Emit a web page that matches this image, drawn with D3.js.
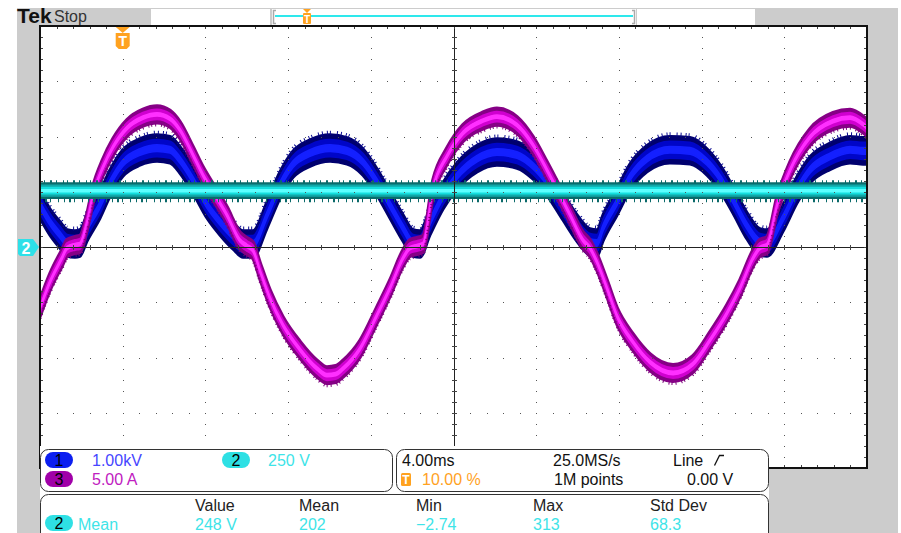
<!DOCTYPE html>
<html><head><meta charset="utf-8">
<script src="https://cdn.jsdelivr.net/npm/d3@7"></script>
<style>
html,body{margin:0;padding:0;background:#fff;}
svg{display:block;}
text{font-family:"Liberation Sans",Arial,sans-serif;}
</style></head><body>
<svg id="c" width="901" height="533"></svg>
<script>
// ---------------- DATA ----------------
// time axis in ms (trigger at 0), 4 ms/div, 10 divisions
const timePerDiv = 4;
const timeStart = -4;
// Channel 1 (blue) voltage, V  (1.00 kV/div)
const ch1Time = [-4.00,-3.52,-3.03,-2.69,-2.31,-2.07,-1.73,-1.10,-0.61,0.01,0.84,1.66,2.29,2.77,3.40,4.08,4.71,5.34,5.82,6.30,6.98,7.61,8.24,9.06,10.03,10.85,11.62,12.30,12.93,13.56,14.04,14.38,14.86,15.49,16.17,17.14,18.10,19.07,19.85,20.52,21.30,21.97,22.60,22.94,23.23,23.91,24.54,25.36,26.47,27.44,28.26,28.89,29.52,30.20,30.82,31.16,31.94,32.61,33.24,34.21,35.18,35.81,36.00];
const ch1Volts = [760,453,217,72,54,72,344,760,1158,1520,1720,1790,1760,1575,1213,760,453,199,54,54,579,1122,1500,1700,1790,1740,1539,1177,760,344,72,54,453,923,1285,1600,1720,1665,1466,1177,724,344,91,72,344,815,1267,1600,1760,1740,1539,1249,851,380,91,72,525,1032,1394,1640,1760,1740,1740];
// Channel 3 (magenta) current, A  (5.00 A/div)
const ch3Time = [-4.00,-3.52,-2.94,-2.69,-2.31,-2.07,-1.73,-1.44,-0.95,-0.47,0.21,0.98,1.66,2.29,2.77,3.40,3.88,4.37,5.04,5.67,6.01,6.30,6.65,7.12,7.75,8.58,9.40,9.88,10.30,10.66,11.48,12.30,12.93,13.56,13.90,14.23,14.52,15.01,15.69,16.46,17.43,18.10,19.07,19.85,20.52,21.15,21.64,22.26,22.60,22.94,23.42,23.91,24.68,25.50,26.62,27.58,28.41,29.23,29.86,30.49,30.82,31.16,31.65,32.28,33.24,34.36,35.18,35.81,36.00];
const ch3Amps = [-5.52,-3.17,-1.00,-0.09,0.18,0.27,2.26,4.71,7.24,9.05,10.77,11.70,12.00,11.60,10.59,8.33,6.52,4.98,2.90,0.60,0.10,-0.30,-2.20,-4.62,-7.06,-9.30,-11.00,-11.60,-11.50,-11.00,-9.20,-6.15,-3.71,-1.00,-0.09,0.09,0.27,5.34,8.24,10.32,11.45,11.80,11.04,9.23,6.97,4.71,2.90,0.63,-0.09,-1.36,-3.71,-6.24,-8.60,-10.41,-11.40,-10.59,-8.42,-5.97,-3.71,-1.00,-0.09,0.18,3.80,6.97,9.95,11.40,11.70,11.10,10.80];
// Channel 2 (cyan) voltage, V  (250 V/div)
const ch2Time = [-4.00,36.00];
const ch2Volts = [255,255];
// vertical scales (per division)
const ch1PerDiv = 1000, ch2PerDiv = 250, ch3PerDiv = 5;
// readout texts
const ch1Label = "1.00kV", ch2Label = "250 V", ch3Label = "5.00 A";
const horizLabels = ["4.00ms","25.0MS/s","Line"];
const horizLabels2 = ["10.00 %","1M points","0.00 V"];
const measLabels = ["Value","Mean","Min","Max","Std Dev"];
const measValues = ["248 V","202","\u22122.74","313","68.3"];
const measName = "Mean";

// ---------------- LAYOUT ----------------
const W = 901, H = 533;
const gx0 = 40, gx1 = 867, gy0 = 26, gy1 = 468;
const nX = 10, nY = 8;
const x = d3.scaleLinear().domain([timeStart, timeStart + nX*timePerDiv]).range([gx0, gx1]);
const y1 = d3.scaleLinear().domain([-nY/2*ch1PerDiv, nY/2*ch1PerDiv]).range([gy1, gy0]);
const y2 = d3.scaleLinear().domain([-nY/2*ch2PerDiv, nY/2*ch2PerDiv]).range([gy1, gy0]);
const y3 = d3.scaleLinear().domain([-nY/2*ch3PerDiv, nY/2*ch3PerDiv]).range([gy1, gy0]);
const xDiv = d3.scaleLinear().domain([0, nX]).range([gx0, gx1]);
const yDiv = d3.scaleLinear().domain([0, nY]).range([gy0, gy1]);

const svg = d3.select("#c");
const defs = svg.append("defs");
defs.append("clipPath").attr("id","gclip").append("rect")
  .attr("x",gx0).attr("y",gy0).attr("width",gx1-gx0).attr("height",gy1-gy0);

const GRAY = "#cccccc", ORANGE = "#ffa21f";
// backgrounds
svg.append("rect").attr("width",W).attr("height",H).attr("fill","#fff");
svg.append("rect").attr("x",17).attr("y",8).attr("width",881).attr("height",H-8).attr("fill",GRAY);
svg.append("rect").attr("x",gx0).attr("y",gy0).attr("width",gx1-gx0).attr("height",gy1-gy0).attr("fill","#fff");

// ---------------- TRACES ----------------
const tg = svg.append("g").attr("clip-path","url(#gclip)");
function band(data, ys, half, color, sw){
  const area = d3.area().x(d=>x(d[0])).y0(d=>ys(d[1]-half)).y1(d=>ys(d[1]+half)).curve(d3.curveMonotoneX);
  tg.append("path").attr("d", area(data)).attr("fill", color)
    .attr("stroke", color).attr("stroke-width", sw).attr("stroke-linejoin","round");
}
const ch1Data = d3.zip(ch1Time, ch1Volts);
const ch3Data = d3.zip(ch3Time, ch3Amps);
const ch2Data = d3.zip(ch2Time, ch2Volts);

band(ch1Data, y1, 240, "#00006e", 3);
band(ch1Data, y1, 150, "#0006c8", 2);
band(ch1Data, y1, 60, "#1420ff", 1.5);
// spiky fringe along top of blue band
const fringe = d3.line().x(d=>x(d[0])).curve(d3.curveMonotoneX);
tg.append("path").attr("d", fringe.y(d=>y1(d[1]+280))(ch1Data))
  .attr("stroke","#0a0a90").attr("stroke-width",4).attr("fill","none").attr("stroke-dasharray","1 4 1 2 1 6 1 3");

band(ch3Data, y3, 0.75, "#860086", 3.5);
band(ch3Data, y3, 0.45, "#d000d0", 2);
band(ch3Data, y3, 0.15, "#ff30ff", 1.5);
tg.append("path").attr("d", fringe.y(d=>y3(d[1]-0.95))(ch3Data))
  .attr("stroke","#7a007a").attr("stroke-width",3).attr("fill","none").attr("stroke-dasharray","1 3 1 5 1 2");

band(ch2Data, y2, 38, "#0a6c6c", 0);
band(ch2Data, y2, 28, "#10a8a8", 0);
band(ch2Data, y2, 18, "#14dede", 0);
band(ch2Data, y2, 8, "#5cffff", 0);
// noise fringes on channel 2 band edges
const edgeLine = d3.line().x(d=>x(d[0]));
tg.append("path").attr("d", edgeLine.y(d=>y2(d[1]+40))(ch2Data))
  .attr("stroke","#0b6a6a").attr("stroke-width",3).attr("fill","none").attr("stroke-dasharray","1 3 1 5 2 4 1 6");
tg.append("path").attr("d", edgeLine.y(d=>y2(d[1]-41))(ch2Data))
  .attr("stroke","#0b6a6a").attr("stroke-width",5).attr("fill","none").attr("stroke-dasharray","1 4 2 3 1 7 1 5");

// ---------------- GRATICULE ----------------
const gg = svg.append("g");
const dotC = "#555";
for (let i = 1; i < nX; i++) {
  if (i === nX/2) continue;
  const xx = Math.round(xDiv(i));
  for (let k = 1; k < nY*5; k++) {
    gg.append("rect").attr("x",xx).attr("y",Math.round(yDiv(k/5))).attr("width",1).attr("height",1).attr("fill",dotC);
  }
}
for (let j = 1; j < nY; j++) {
  if (j === nY/2) continue;
  const yy = Math.round(yDiv(j));
  for (let k = 1; k < nX*5; k++) {
    gg.append("rect").attr("x",Math.round(xDiv(k/5))).attr("y",yy).attr("width",1).attr("height",1).attr("fill",dotC);
  }
}
const cx = Math.round(xDiv(nX/2)) + 0.5, cy = Math.round(yDiv(nY/2)) + 0.5;
gg.append("line").attr("x1",gx0).attr("x2",gx1).attr("y1",cy).attr("y2",cy).attr("stroke","#222").attr("stroke-width",1);
gg.append("line").attr("x1",cx).attr("x2",cx).attr("y1",gy0).attr("y2",gy1).attr("stroke","#222").attr("stroke-width",1);
for (let k = 1; k < nX*5; k++) {
  const xx = Math.round(xDiv(k/5)) + 0.5;
  gg.append("line").attr("x1",xx).attr("x2",xx).attr("y1",cy-2.5).attr("y2",cy+2.5).attr("stroke","#444");
  gg.append("line").attr("x1",xx).attr("x2",xx).attr("y1",gy0).attr("y2",gy0+3).attr("stroke","#444");
  gg.append("line").attr("x1",xx).attr("x2",xx).attr("y1",gy1-3).attr("y2",gy1).attr("stroke","#444");
}
for (let k = 1; k < nY*5; k++) {
  const yy = Math.round(yDiv(k/5)) + 0.5;
  gg.append("line").attr("y1",yy).attr("y2",yy).attr("x1",cx-2.5).attr("x2",cx+2.5).attr("stroke","#444");
  gg.append("line").attr("y1",yy).attr("y2",yy).attr("x1",gx0).attr("x2",gx0+3).attr("stroke","#444");
  gg.append("line").attr("y1",yy).attr("y2",yy).attr("x1",gx1-3).attr("x2",gx1).attr("stroke","#444");
}
gg.append("rect").attr("x",gx0).attr("y",gy0).attr("width",gx1-gx0).attr("height",gy1-gy0)
  .attr("fill","none").attr("stroke","#111").attr("stroke-width",2);

// ---------------- HEADER ----------------
svg.append("text").attr("x",17).attr("y",23).attr("font-family","'Liberation Serif',serif")
  .attr("font-weight","bold").attr("font-size",21).attr("fill","#111").text("Tek");
svg.append("text").attr("x",54).attr("y",22).attr("font-size",16).attr("fill","#333").text("Stop");
svg.append("rect").attr("x",151).attr("y",9).attr("width",119).attr("height",16).attr("fill","#fff");
svg.append("rect").attr("x",272).attr("y",9).attr("width",364).attr("height",16).attr("fill","#fff");
svg.append("rect").attr("x",637).attr("y",9).attr("width",118).attr("height",16).attr("fill","#fff");
svg.append("path").attr("d","M276,10.5 H273.5 V23.5 H276").attr("fill","none").attr("stroke","#aaa").attr("stroke-width",1.5);
svg.append("path").attr("d","M632,10.5 H634.5 V23.5 H632").attr("fill","none").attr("stroke","#aaa").attr("stroke-width",1.5);
svg.append("line").attr("x1",275).attr("x2",633).attr("y1",16).attr("y2",16).attr("stroke","#2ee8ec").attr("stroke-width",2);
// small trigger marker in record bar
const tb = 307;
svg.append("path").attr("d",`M${tb-4},9 L${tb+4},9 L${tb},13 Z`).attr("fill",ORANGE);
svg.append("rect").attr("x",tb-4).attr("y",13).attr("width",8).attr("height",11).attr("rx",1).attr("fill",ORANGE);
svg.append("text").attr("x",tb).attr("y",22.5).attr("text-anchor","middle").attr("font-size",10).attr("font-weight","bold").attr("fill","#fff").text("T");
// main trigger marker at time 0
const tx = x(0);
svg.append("path").attr("d",`M${tx-7},27 L${tx+7},27 L${tx},33 Z`).attr("fill",ORANGE);
svg.append("path").attr("d",`M${tx-7},33 H${tx+7} V46 L${tx+4},49 H${tx-4} L${tx-7},46 Z`).attr("fill",ORANGE);
svg.append("text").attr("x",tx).attr("y",46).attr("text-anchor","middle").attr("font-size",14).attr("font-weight","bold").attr("fill","#fff").text("T");

// channel 2 ground marker
const g2 = y2(0);
svg.append("path").attr("d",`M18,${g2-8} H33 L39,${g2} L33,${g2+9} H20 L18,${g2+7} Z`).attr("fill","#2ee0e8");
svg.append("text").attr("x",26).attr("y",g2+6.5).attr("text-anchor","middle").attr("font-size",16).attr("font-weight","bold").attr("fill","#fff").text("2");

// ---------------- READOUTS ----------------
svg.append("rect").attr("x",40).attr("y",446).attr("width",729).attr("height",87).attr("fill","#fff");
const boxS = "#333";
svg.append("rect").attr("x",40.5).attr("y",449.5).attr("width",352).attr("height",42).attr("rx",8).attr("fill","#fff").attr("stroke",boxS);
svg.append("rect").attr("x",396.5).attr("y",449.5).attr("width",372).attr("height",42).attr("rx",8).attr("fill","#fff").attr("stroke",boxS);
svg.append("rect").attr("x",40.5).attr("y",494.5).attr("width",728).attr("height",60).attr("rx",8).attr("fill","#fff").attr("stroke",boxS);

function pill(px, py, color, label){
  svg.append("rect").attr("x",px).attr("y",py).attr("width",28).attr("height",16).attr("rx",8).attr("fill",color);
  svg.append("text").attr("x",px+14).attr("y",py+14).attr("text-anchor","middle").attr("font-size",16).attr("fill","#000").text(label);
}
function txt(tx_, ty, s, color){
  svg.append("text").attr("x",tx_).attr("y",ty).attr("font-size",16).attr("fill",color).text(s);
}
pill(45, 452, "#0c1ff0", "1");
pill(45, 471, "#a000a8", "3");
pill(222, 452, "#2ee0e4", "2");
txt(92, 466, ch1Label, "#4646ff");
txt(268, 466, ch2Label, "#3ee4e8");
txt(92, 485, ch3Label, "#c020c0");

txt(402, 466, horizLabels[0], "#111");
txt(553, 466, horizLabels[1], "#111");
txt(673, 466, horizLabels[2], "#111");
svg.append("path").attr("d","M714.5,465.5 L719.5,455.5 H724").attr("fill","none").attr("stroke","#111").attr("stroke-width",1.3);
svg.append("rect").attr("x",401).attr("y",473).attr("width",10).attr("height",13).attr("rx",1.5).attr("fill",ORANGE);
svg.append("text").attr("x",406).attr("y",484).attr("text-anchor","middle").attr("font-size",12).attr("font-weight","bold").attr("fill","#fff").text("T");
txt(422, 485, horizLabels2[0], ORANGE);
txt(554, 485, horizLabels2[1], "#111");
txt(687, 485, horizLabels2[2], "#111");

const measCols = [195, 299, 416, 533, 650];
measLabels.forEach((s,i)=>txt(measCols[i], 511, s, "#222"));
measValues.forEach((s,i)=>txt(measCols[i], 530, s, "#3ee4e8"));
pill(45, 515, "#2ee0e4", "2");
txt(78, 530, measName, "#3ee4e8");
</script>
</body></html>
